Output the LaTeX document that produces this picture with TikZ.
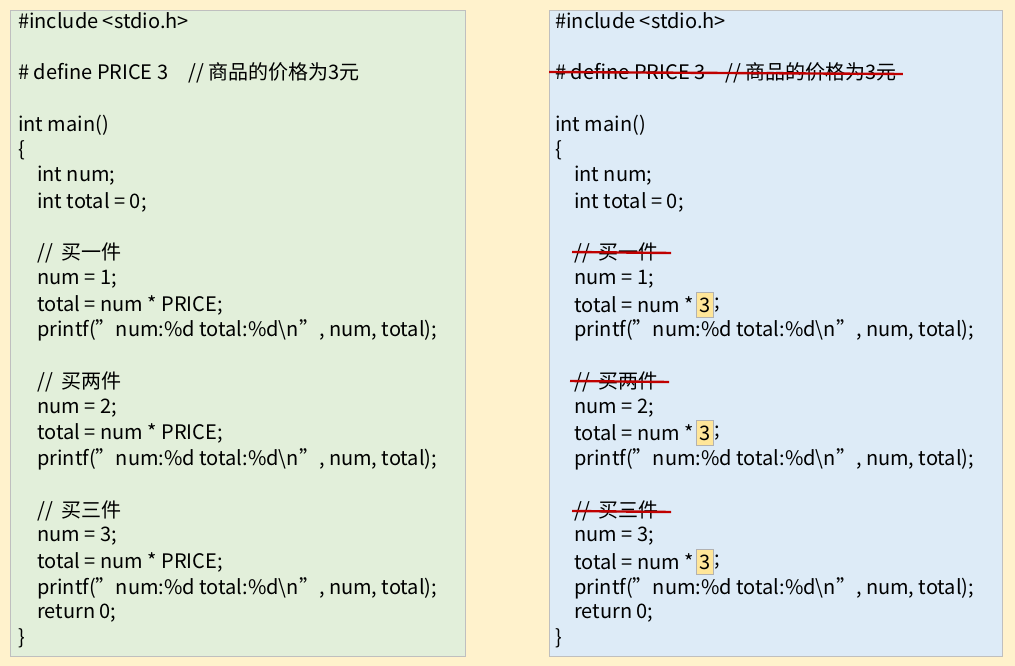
\documentclass[tikz,border=0pt]{standalone}
\usepackage{fontspec}
\setmainfont{Noto Sans CJK SC}
\usetikzlibrary{positioning}
\definecolor{bgyellow}{HTML}{FFF2CC}
\definecolor{codegreen}{HTML}{E2EFDA}
\definecolor{codeblue}{HTML}{DDEBF7}
\definecolor{hlyellow}{HTML}{FFE699}
\definecolor{strikered}{HTML}{C00000}
\begin{document}
\begin{tikzpicture}[x=1pt,y=-1pt]
        \tikzstyle{panel}=[draw=black!25,line width=0.8pt]
        \tikzstyle{code}=[anchor=west,inner sep=0pt,font=\fontsize{20}{24}\selectfont]
        \tikzstyle{hl}=[draw=black!30,fill=hlyellow,inner sep=0pt,minimum width=17pt,minimum height=25pt,font=\fontsize{20}{24}\selectfont]
        \tikzstyle{strike}=[draw=strikered,line width=2.4pt]
        \fill[bgyellow] (0,0) rectangle (1015,666);
        \filldraw[panel,fill=codegreen] (10,10) rectangle (465,656);
        \filldraw[panel,fill=codeblue] (549,10) rectangle (1002,656);
        % left panel
        \begin{scope}
            \node [code] (l1) at (18,21) {\#include <stdio.h>};
            \node [code] (l3) at (18,73) {\# define PRICE 3\quad//\ 商品的价格为3元};
            \node [code] (l5) at (18,125) {int main()};
            \node [code] (l6) at (18,150) {\{};
            \node [code] (l7) at (37,176) {int num;};
            \node [code] (l8) at (37,202) {int total = 0;};
            \node [code] (l10) at (37,253) {//\ \ 买一件};
            \node [code] (l11) at (37,279) {num = 1;};
            \node [code] (l12) at (37,305) {total = num * PRICE;};
            \node [code] (l13) at (37,330) {printf("num:\%d total:\%d\textbackslash n", num, total);};
            \node [code] (l15) at (37,382) {//\ \ 买两件};
            \node [code] (l16) at (37,408) {num = 2;};
            \node [code] (l17) at (37,433) {total = num * PRICE;};
            \node [code] (l18) at (37,459) {printf("num:\%d total:\%d\textbackslash n", num, total);};
            \node [code] (l20) at (37,511) {//\ \ 买三件};
            \node [code] (l21) at (37,536) {num = 3;};
            \node [code] (l22) at (37,562) {total = num * PRICE;};
            \node [code] (l23) at (37,588) {printf("num:\%d total:\%d\textbackslash n", num, total);};
            \node [code] (l24) at (37,613) {return 0;};
            \node [code] (l25) at (18,638) {\}};
        \end{scope}
        % right panel
        \begin{scope}
            \node [code] (r1) at (555,21) {\#include <stdio.h>};
            \node [code] (r3) at (555,73) {\# define PRICE 3\quad//\ 商品的价格为3元};
            \node [code] (r5) at (555,125) {int main()};
            \node [code] (r6) at (555,150) {\{};
            \node [code] (r7) at (574,176) {int num;};
            \node [code] (r8) at (574,202) {int total = 0;};
            \node [code] (r10) at (574,253) {//\ \ 买一件};
            \node [code] (r11) at (574,279) {num = 1;};
            \node [code] (r12) at (574,305) {total = num *};
            \node [hl,right=2pt of r12] (h1) {3};
            \node [code,right=1pt of h1] (s1) {;};
            \node [code] (r13) at (574,330) {printf("num:\%d total:\%d\textbackslash n", num, total);};
            \node [code] (r15) at (574,382) {//\ \ 买两件};
            \node [code] (r16) at (574,408) {num = 2;};
            \node [code] (r17) at (574,433) {total = num *};
            \node [hl,right=2pt of r17] (h2) {3};
            \node [code,right=1pt of h2] (s2) {;};
            \node [code] (r18) at (574,459) {printf("num:\%d total:\%d\textbackslash n", num, total);};
            \node [code] (r20) at (574,511) {//\ \ 买三件};
            \node [code] (r21) at (574,536) {num = 3;};
            \node [code] (r22) at (574,562) {total = num *};
            \node [hl,right=2pt of r22] (h3) {3};
            \node [code,right=1pt of h3] (s3) {;};
            \node [code] (r23) at (574,588) {printf("num:\%d total:\%d\textbackslash n", num, total);};
            \node [code] (r24) at (574,613) {return 0;};
            \node [code] (r25) at (555,638) {\}};
            \path[strike] ([xshift=-6pt,yshift=1pt]r3.west) -- ([xshift=6pt,yshift=-1pt]r3.east);
            \path[strike] ([xshift=-2pt,yshift=1pt]r10.west) -- ([xshift=12pt,yshift=0pt]r10.east);
            \path[strike] ([xshift=-4pt,yshift=1pt]r15.west) -- ([xshift=10pt,yshift=0pt]r15.east);
            \path[strike] ([xshift=-2pt,yshift=0pt]r20.west) -- ([xshift=12pt,yshift=-1pt]r20.east);
        \end{scope}
\end{tikzpicture}
\end{document}
